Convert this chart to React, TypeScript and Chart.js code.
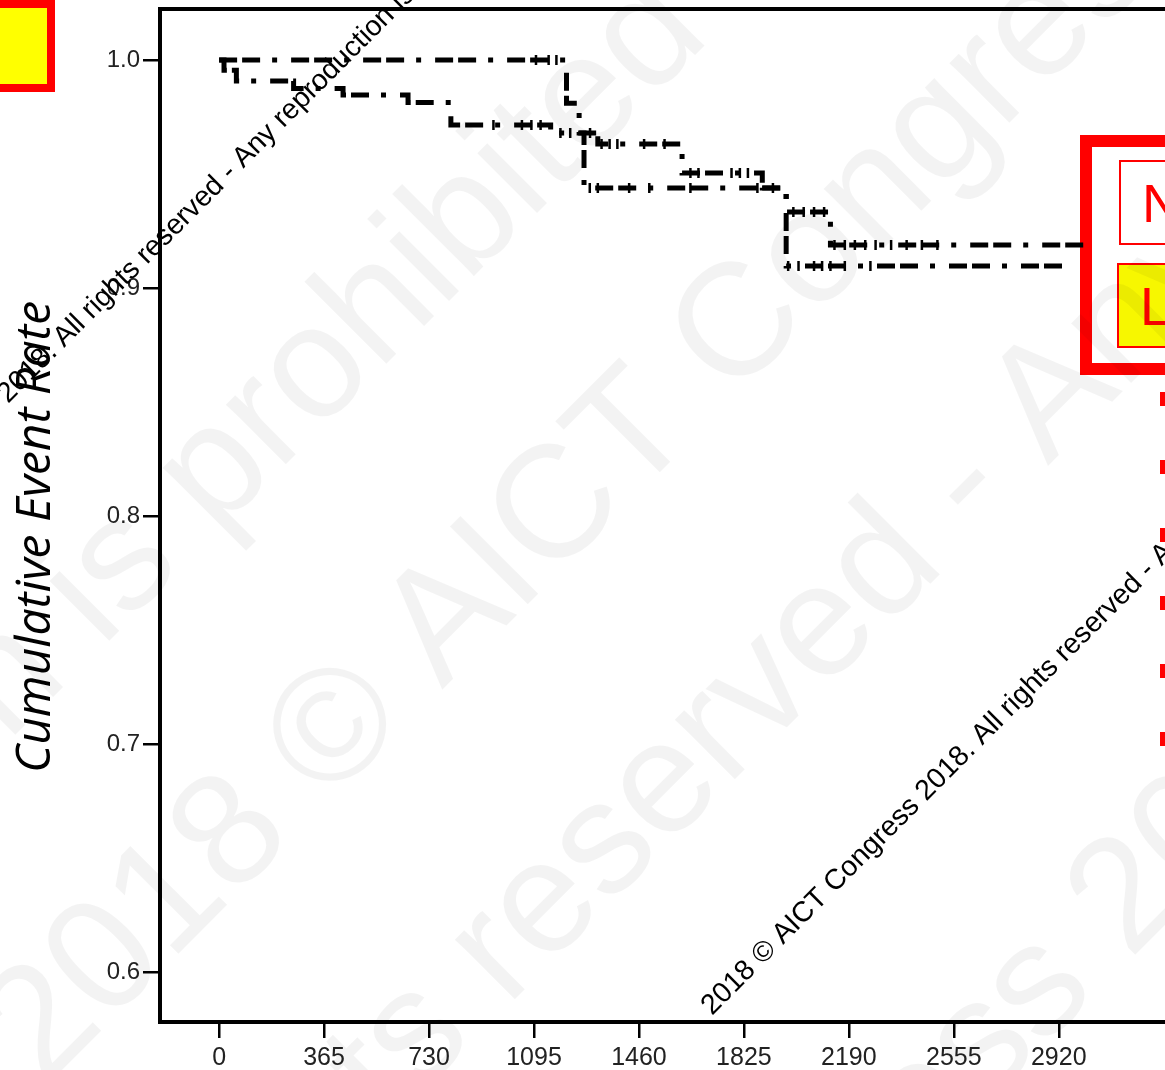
import React, { useEffect, useRef } from 'react';
import { Chart, registerables } from 'chart.js';

Chart.register(...registerables);

// ---------- data ----------
const X_TICKS = [0, 365, 730, 1095, 1460, 1825, 2190, 2555, 2920];
const Y_TICKS = [0.6, 0.7, 0.8, 0.9, 1.0];

const GROUP_A_DAYS = [0, 1208, 1252, 1269, 1972, 2970];
const GROUP_A_RATE = [1.0, 0.981, 0.968, 0.9439, 0.9096, 0.9096];

const GROUP_B_DAYS = [0, 17, 60, 259, 431, 657, 806, 1153, 1317, 1610, 1889, 1972, 2126, 3045];
const GROUP_B_RATE = [1.0, 0.9955, 0.9908, 0.9875, 0.9846, 0.9814, 0.9715, 0.968, 0.9632, 0.9504, 0.9439, 0.9333, 0.9189, 0.9189];

const CENSOR_A_DAYS = [1102, 1146, 1173, 1289, 1317, 1426, 1496, 1639, 1872, 1926, 1979, 2015, 2069, 2097, 2126, 2176, 2265];
const CENSOR_B_DAYS = [954, 1053, 1086, 1118, 1187, 1221, 1290, 1330, 1358, 1385, 1478, 1549, 1639, 1667, 1782, 1811, 1839, 1997, 2033, 2069, 2104, 2140, 2176, 2211, 2247, 2283, 2337, 2391, 2444, 2498];

const Y_TITLE = 'Cumulative Event Rate';
const WM_TEXT = '2018 © AICT Congress 2018. All rights reserved - Any reproduction is prohibited';
const BOX1_TEXT = 'N';
const BOX2_TEXT = 'LC';

// ---------- helpers ----------
const stepValue = (days: number[], rates: number[], t: number) => {
  let v = rates[0];
  for (let i = 0; i < days.length; i++) if (days[i] <= t) v = rates[i];
  return v;
};

const DASH = [18, 5, 18, 12, 5, 14];
const X_MIN = -205.6;
const X_MAX = 3732.9;
const Y_MIN = 0.57807;
const Y_MAX = 1.02237;

function drawAnchored(ctx: CanvasRenderingContext2D, text: string, sub: string, ax: number, ay: number) {
  const idx = Math.max(0, text.indexOf(sub));
  const pre = ctx.measureText(text.slice(0, idx)).width;
  ctx.save();
  ctx.translate(ax, ay);
  ctx.rotate(-Math.PI / 4);
  ctx.textAlign = 'left';
  ctx.textBaseline = 'alphabetic';
  ctx.fillText(text, -pre, 0);
  ctx.restore();
}

const BIG_LINES = [
  { sub: 'prohibited', x: 215, y: 535 },
  { sub: '2018 © AICT', x: 44, y: 1088 },
  { sub: 'reserved', x: 507, y: 1007 },
  { sub: 'ss 2018', x: 985, y: 1105 },
];
const SMALL_LINES = [
  { sub: '2018. All', x: 8, y: 404 },
  { sub: '2018 © AICT', x: 712, y: 1016 },
];

const overlayPlugin = {
  id: 'overlayPlugin',
  afterDraw(chart: any) {
    const ctx: CanvasRenderingContext2D = chart.ctx;
    const area = chart.chartArea;
    ctx.save();
    // top frame line
    ctx.fillStyle = '#000';
    ctx.fillRect(area.left - 2, area.top - 2, area.right - area.left + 4, 4);

    // y title
    ctx.save();
    ctx.translate(50, 537);
    ctx.rotate(-Math.PI / 2);
    ctx.font = 'italic 48px "Open Sans", sans-serif';
    ctx.fillStyle = '#000';
    ctx.textAlign = 'center';
    ctx.textBaseline = 'alphabetic';
    ctx.fillText(Y_TITLE, 0, 0);
    ctx.restore();

    // red dashes at right edge
    ctx.fillStyle = '#ff0000';
    for (let y = 392; y < 770; y += 68) ctx.fillRect(1160, y, 5, 14);

    // big faint watermark
    ctx.font = '160px "Liberation Sans", Arial, sans-serif';
    ctx.fillStyle = 'rgba(0,0,0,0.047)';
    for (const l of BIG_LINES) drawAnchored(ctx, WM_TEXT, l.sub, l.x, l.y);

    // small black watermark
    ctx.font = '28.5px "Liberation Sans", Arial, sans-serif';
    ctx.fillStyle = '#000';
    for (const l of SMALL_LINES) drawAnchored(ctx, WM_TEXT, l.sub, l.x, l.y);
    ctx.restore();
  },
};

export default function App() {
  const ref = useRef<HTMLCanvasElement | null>(null);

  useEffect(() => {
    if (!ref.current) return;
    const lineA = GROUP_A_DAYS.map((d, i) => ({ x: d, y: GROUP_A_RATE[i] }));
    const lineB = GROUP_B_DAYS.map((d, i) => ({ x: d, y: GROUP_B_RATE[i] }));
    const censA = CENSOR_A_DAYS.map((d) => ({ x: d, y: stepValue(GROUP_A_DAYS, GROUP_A_RATE, d) }));
    const censB = CENSOR_B_DAYS.map((d) => ({ x: d, y: stepValue(GROUP_B_DAYS, GROUP_B_RATE, d) }));

    const lineCommon = {
      type: 'line' as const,
      stepped: true,
      borderColor: '#000',
      borderWidth: 5,
      borderDash: DASH,
      borderCapStyle: 'butt' as const,
      pointRadius: 0,
      fill: false,
    };
    const censCommon = {
      type: 'line' as const,
      showLine: false,
      pointStyle: 'line' as const,
      pointRotation: 90,
      pointRadius: 5,
      pointBorderWidth: 2.5,
      pointBorderColor: '#000',
      pointBackgroundColor: '#000',
    };

    const chart = new Chart(ref.current, {
      type: 'line',
      data: {
        datasets: [
          { ...lineCommon, label: 'A', data: lineA } as any,
          { ...lineCommon, label: 'B', data: lineB } as any,
          { ...censCommon, label: 'A censored', data: censA } as any,
          { ...censCommon, label: 'B censored', data: censB } as any,
        ],
      },
      options: {
        animation: false,
        responsive: false,
        devicePixelRatio: 1,
        layout: { padding: { top: 9, left: 0, right: 0, bottom: 0 } },
        plugins: {
          legend: { display: false },
          tooltip: { enabled: false },
          title: { display: false },
        },
        scales: {
          x: {
            type: 'linear',
            min: X_MIN,
            max: X_MAX,
            afterBuildTicks: (s: any) => {
              s.ticks = X_TICKS.map((v) => ({ value: v }));
            },
            afterFit: (s: any) => {
              s.height = 48;
              s.paddingLeft = 0;
              s.paddingRight = 0;
            },
            grid: { drawOnChartArea: false, drawTicks: true, tickLength: 16, color: '#000', lineWidth: 2.5 },
            border: { display: true, color: '#000', width: 4 },
            ticks: {
              color: '#222',
              font: { family: '"Liberation Sans", Arial, sans-serif', size: 25 },
              padding: 5,
              maxRotation: 0,
              autoSkip: false,
              callback: (v: any) => String(v),
            },
          },
          y: {
            type: 'linear',
            min: Y_MIN,
            max: Y_MAX,
            afterBuildTicks: (s: any) => {
              s.ticks = Y_TICKS.map((v) => ({ value: v }));
            },
            afterFit: (s: any) => {
              s.width = 160;
              s.paddingTop = 0;
              s.paddingBottom = 0;
            },
            grid: { drawOnChartArea: false, drawTicks: true, tickLength: 17, color: '#000', lineWidth: 2.5 },
            border: { display: true, color: '#000', width: 4 },
            ticks: {
              color: '#222',
              font: { family: '"Liberation Sans", Arial, sans-serif', size: 24 },
              padding: 3,
              autoSkip: false,
              callback: (v: any) => Number(v).toFixed(1),
            },
          },
        },
      },
      plugins: [overlayPlugin],
    });
    return () => chart.destroy();
  }, []);

  return (
    <div style={{ position: 'fixed', left: 0, top: 0, width: 1165, height: 1070, overflow: 'hidden', background: '#fff' }}>
      {/* top-left yellow box */}
      <div style={{ position: 'absolute', left: -30, top: 0, width: 85, height: 92, boxSizing: 'border-box', border: '8px solid #ff0000', background: '#ffff00' }} />
      {/* right red frame */}
      <div style={{ position: 'absolute', left: 1080, top: 135, width: 200, height: 240, boxSizing: 'border-box', border: '12px solid #ff0000' }} />
      <div style={{ position: 'absolute', left: 1119, top: 160, width: 150, height: 85, boxSizing: 'border-box', border: '2px solid #ff0000', background: '#fff', display: 'flex', alignItems: 'center', paddingLeft: 21, color: '#ff0000', font: '54px "Liberation Sans", Arial, sans-serif', whiteSpace: 'nowrap' }}>{BOX1_TEXT}</div>
      <div style={{ position: 'absolute', left: 1117, top: 263, width: 150, height: 85, boxSizing: 'border-box', border: '2px solid #ff0000', background: '#f7f700', display: 'flex', alignItems: 'center', paddingLeft: 21, color: '#ff0000', font: '54px "Liberation Sans", Arial, sans-serif', whiteSpace: 'nowrap' }}>{BOX2_TEXT}</div>
      <div style={{ position: 'absolute', left: 0, top: 0, width: 1300, height: 1070 }}>
        <canvas ref={ref} width={1300} height={1070} style={{ width: 1300, height: 1070, display: 'block' }} />
      </div>
    </div>
  );
}
